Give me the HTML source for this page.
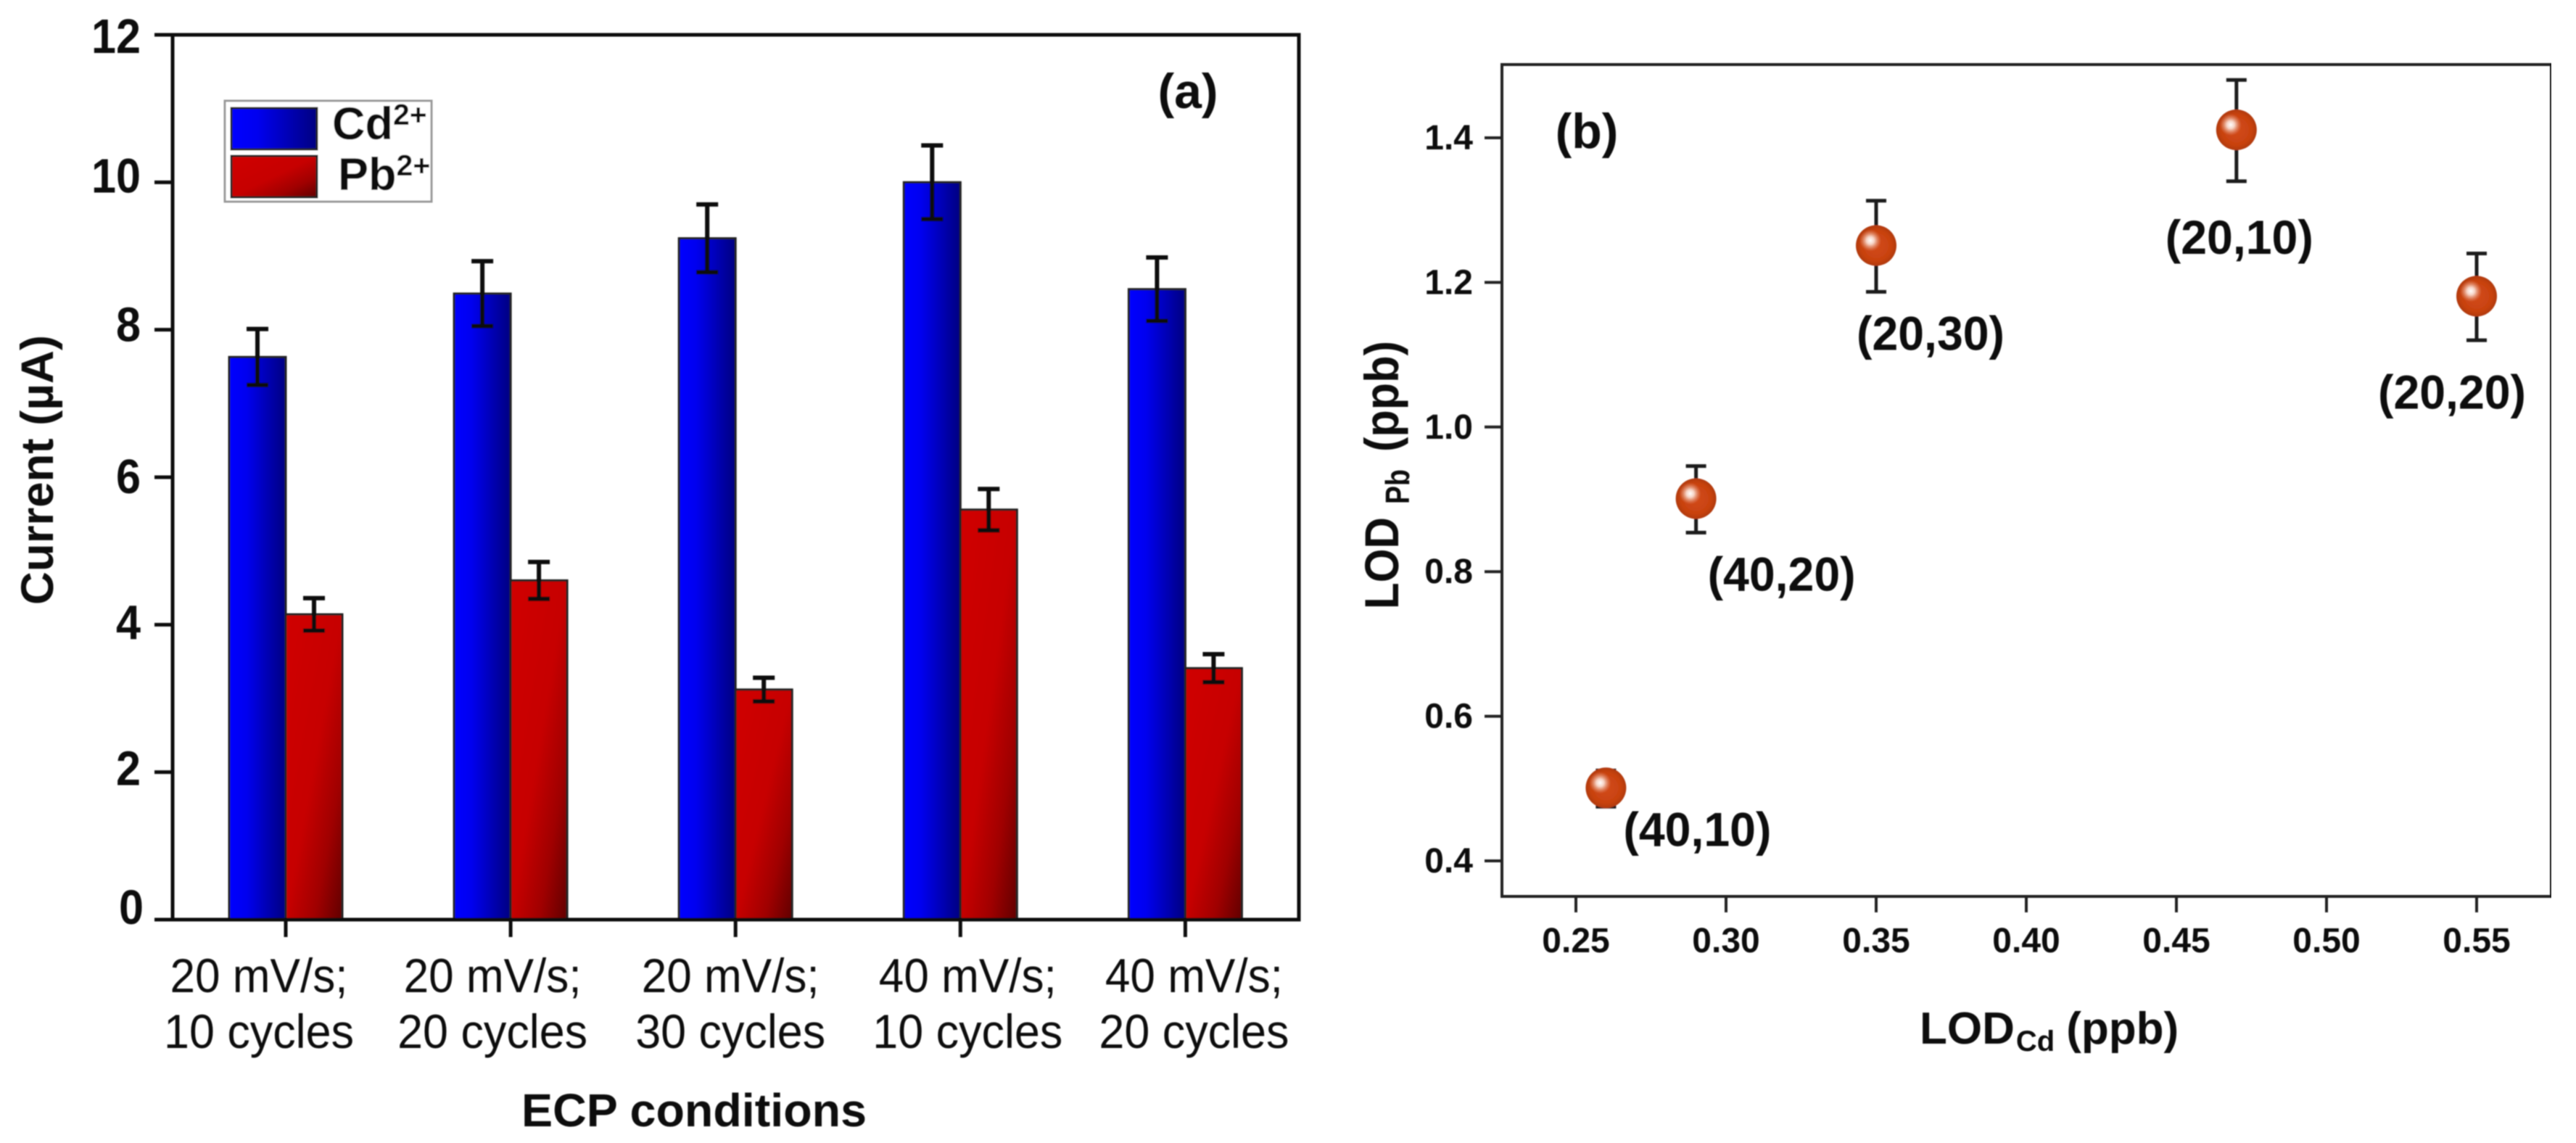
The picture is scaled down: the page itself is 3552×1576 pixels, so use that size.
<!DOCTYPE html>
<html lang="en">
<head>
<meta charset="utf-8">
<title>ECP conditions chart</title>
<style>
html,body{margin:0;padding:0;background:#fff;}
svg{display:block;}
text{font-family:"Liberation Sans",sans-serif;fill:#0c0c0c;}
.b{font-weight:bold;}
</style>
</head>
<body>
<svg id="figure" xmlns="http://www.w3.org/2000/svg" width="3552" height="1576" viewBox="0 0 3552 1576">
  <defs>
    <linearGradient id="blueGrad" x1="0" y1="0" x2="1" y2="0">
      <stop offset="0" stop-color="#0000ff"/>
      <stop offset="0.3" stop-color="#0000f0"/>
      <stop offset="1" stop-color="#000080"/>
    </linearGradient>
    <linearGradient id="redGrad" x1="0" y1="0" x2="1" y2="1">
      <stop offset="0" stop-color="#d00000"/>
      <stop offset="0.5" stop-color="#c60000"/>
      <stop offset="0.75" stop-color="#a00000"/>
      <stop offset="1" stop-color="#600000"/>
    </linearGradient>
    <radialGradient id="ballGrad" cx="0.5" cy="0.5" r="0.5">
      <stop offset="0" stop-color="#d24a1c"/>
      <stop offset="0.75" stop-color="#c8420f"/>
      <stop offset="1" stop-color="#b03a12"/>
    </radialGradient>
    <radialGradient id="shineGrad" cx="0.5" cy="0.5" r="0.5">
      <stop offset="0" stop-color="#ffffff"/>
      <stop offset="0.35" stop-color="#fbe4da" stop-opacity="0.9"/>
      <stop offset="1" stop-color="#e8a080" stop-opacity="0"/>
    </radialGradient>
    <filter id="soft" x="0" y="0" width="100%" height="100%"><feGaussianBlur stdDeviation="0.9"/></filter>
  </defs>
  <rect width="3552" height="1576" fill="#fff"/>
  <g id="root" filter="url(#soft)">
    <g id="panelA">
      <rect x="238" y="48" width="1553" height="1220" fill="none" stroke="#111" stroke-width="5"/>
      <text class="b" x="1638" y="149" font-size="68" text-anchor="middle">(a)</text>
      <text class="b" font-size="63" text-anchor="middle" textLength="372" lengthAdjust="spacingAndGlyphs" transform="translate(73,648) rotate(-90)">Current (µA)</text>
      <text class="b" x="957" y="1553" font-size="64" text-anchor="middle" textLength="476" lengthAdjust="spacingAndGlyphs">ECP conditions</text>
    </g>
    <g id="panelB">
      <rect x="2071" y="89" width="1447" height="1147" fill="none" stroke="#222" stroke-width="4"/>
      <text class="b" x="2188" y="204" font-size="68" text-anchor="middle">(b)</text>
      <g class="b" transform="translate(1928,840) rotate(-90)">
        <text class="b" x="0" y="0" font-size="66" textLength="127" lengthAdjust="spacingAndGlyphs">LOD</text>
        <text class="b" x="145" y="15" font-size="46" textLength="48" lengthAdjust="spacingAndGlyphs">Pb</text>
        <text class="b" x="217" y="0" font-size="66" textLength="153" lengthAdjust="spacingAndGlyphs">(ppb)</text>
      </g>
      <text class="b" x="2647" y="1439" font-size="62">LOD<tspan font-size="40" dx="2" dy="10">Cd</tspan><tspan dx="16" dy="-10">(ppb)</tspan></text>
    </g>
    <g id="legend">
      <rect x="310" y="139" width="285" height="139" fill="#fff" stroke="#999" stroke-width="3"/>
      <rect x="319" y="149" width="118" height="57" fill="url(#blueGrad)" stroke="#222" stroke-width="3"/>
      <rect x="319" y="215" width="118" height="57" fill="url(#redGrad)" stroke="#222" stroke-width="3"/>
      <text class="b" x="458" y="192" font-size="63">Cd<tspan font-size="41" dy="-20">2+</tspan></text>
      <text class="b" x="466" y="262" font-size="63">Pb<tspan font-size="41" dy="-20">2+</tspan></text>
    </g>
  </g>
</svg>
<script>
// Panel (a) data
const categoriesLine1 = ['20 mV/s;', '20 mV/s;', '20 mV/s;', '40 mV/s;', '40 mV/s;'];
const categoriesLine2 = ['10 cycles', '20 cycles', '30 cycles', '10 cycles', '20 cycles'];
const cdCurrent = [7.63, 8.49, 9.24, 10.0, 8.55];
const cdError = [0.38, 0.44, 0.46, 0.5, 0.43];
const pbCurrent = [4.14, 4.6, 3.12, 5.56, 3.41];
const pbError = [0.22, 0.25, 0.16, 0.28, 0.19];
const currentTicks = [0, 2, 4, 6, 8, 10, 12];

// Panel (b) data
const lodCd = [0.26, 0.29, 0.35, 0.47, 0.55];
const lodPb = [0.5, 0.9, 1.25, 1.41, 1.18];
const lodPbError = [0.025, 0.046, 0.063, 0.07, 0.06];
const pointLabels = ['(40,10)', '(40,20)', '(20,30)', '(20,10)', '(20,20)'];
const lodCdTicks = ['0.25', '0.30', '0.35', '0.40', '0.45', '0.50', '0.55'];
const lodPbTicks = ['0.4', '0.6', '0.8', '1.0', '1.2', '1.4'];

// Axis functions
function yA(v) { return 1268 - v * (1220 / 12); }
function xA(i) { return 394 + i * 310.1; }
function xB(v) { return 2173 + (v - 0.25) * (1242 / 0.3); }
function yB(v) { return 1187 - (v - 0.4) * 997; }

// Layout tweaks (manually placed text in the original figure)
function categoryLabelShift(i) { return [-37, -25, -7, 10, 12][i]; }
function pointLabelShiftX(i) { return [126, 118, 75, 4, -34][i]; }
function pointLabelShiftY(i) { return [79, 126, 143, 170, 154][i]; }
function yTickBaselineShift(i) { return [6, 18, 20, 22, 16, 14, 25][i]; }

const NS = 'http://www.w3.org/2000/svg';
function make(parent, tag, attrs, txt) {
  const n = document.createElementNS(NS, tag);
  for (const k in attrs) n.setAttribute(k, attrs[k]);
  if (txt !== undefined) n.textContent = txt;
  parent.appendChild(n);
  return n;
}
function errorBar(parent, x, yTop, yBot, cap, w, color) {
  const g = make(parent, 'g', { stroke: color, 'stroke-width': w, fill: 'none' });
  
  
  make(g, 'line', { x1: x, x2: x, y1: yTop, y2: yBot });
  make(g, 'line', { x1: x - cap, x2: x + cap, y1: yTop, y2: yTop });
  make(g, 'line', { x1: x - cap, x2: x + cap, y1: yBot, y2: yBot });
  return g;
}

const panelA = document.getElementById('panelA');
const panelB = document.getElementById('panelB');
const barWidth = 78;

currentTicks.forEach(function (t, i) {
  const y = yA(t);
  const tick = make(panelA, 'line', { x1: 213, x2: 238, y1: y, y2: y, stroke: '#111', 'stroke-width': 5 });
  
  
  const s = String(t);
  const lab = make(panelA, 'text', { x: t === 0 ? 198 : 194, y: y + yTickBaselineShift(i), 'font-size': 67, 'text-anchor': 'end', class: 'b', textLength: s.length * 34, lengthAdjust: 'spacingAndGlyphs' }, s);
  
  
});

categoriesLine1.forEach(function (c, i) {
  const x = xA(i);
  const cd = make(panelA, 'rect', { x: x - barWidth, y: yA(cdCurrent[i]), width: barWidth, height: yA(0) - yA(cdCurrent[i]), fill: 'url(#blueGrad)', stroke: '#222', 'stroke-width': 3 });
  
  
  const pb = make(panelA, 'rect', { x: x, y: yA(pbCurrent[i]), width: barWidth, height: yA(0) - yA(pbCurrent[i]), fill: 'url(#redGrad)', stroke: '#222', 'stroke-width': 3 });
  
  
  errorBar(panelA, x - barWidth / 2, yA(cdCurrent[i] + cdError[i]), yA(cdCurrent[i] - cdError[i]), 15, 6, '#0a0a0a');
  errorBar(panelA, x + barWidth / 2, yA(pbCurrent[i] + pbError[i]), yA(pbCurrent[i] - pbError[i]), 15, 6, '#0a0a0a');
  const tick = make(panelA, 'line', { x1: x, x2: x, y1: 1268, y2: 1292, stroke: '#111', 'stroke-width': 5 });
  
  
  const lx = x + categoryLabelShift(i);
  const l1 = make(panelA, 'text', { x: lx, y: 1368, 'font-size': 66, 'text-anchor': 'middle', textLength: 245, lengthAdjust: 'spacingAndGlyphs' }, c);
  
  
  const l2 = make(panelA, 'text', { x: lx, y: 1445, 'font-size': 66, 'text-anchor': 'middle', textLength: 262, lengthAdjust: 'spacingAndGlyphs' }, categoriesLine2[i]);
  
  
});
// Baseline redrawn above the bars
const baseA = make(panelA, 'line', { x1: 213, x2: 1791, y1: 1268, y2: 1268, stroke: '#111', 'stroke-width': 5 });



lodPbTicks.forEach(function (t) {
  const y = yB(parseFloat(t));
  const tick = make(panelB, 'line', { x1: 2047, x2: 2071, y1: y, y2: y, stroke: '#222', 'stroke-width': 4 });
  
  
  const lab = make(panelB, 'text', { x: 2031, y: y + 16, 'font-size': 48, 'text-anchor': 'end', class: 'b' }, t);
  
  
});
lodCdTicks.forEach(function (t) {
  const x = xB(parseFloat(t));
  const tick = make(panelB, 'line', { x1: x, x2: x, y1: 1236, y2: 1258, stroke: '#222', 'stroke-width': 4 });
  
  
  const lab = make(panelB, 'text', { x: x, y: 1313, 'font-size': 48, 'text-anchor': 'middle', class: 'b' }, t);
  
  
});
lodCd.forEach(function (v, i) {
  const x = xB(v);
  const y = yB(lodPb[i]);
  errorBar(panelB, x, yB(lodPb[i] + lodPbError[i]), yB(lodPb[i] - lodPbError[i]), 14, 5, '#1a1a1a');
  const pt = make(panelB, 'circle', { cx: x, cy: y - 1, r: 28, fill: 'url(#ballGrad)' });
  
  
  const shine = make(panelB, 'circle', { cx: x - 8, cy: y - 8, r: 15, fill: 'url(#shineGrad)' });
  
  
  const lab = make(panelB, 'text', { x: x + pointLabelShiftX(i), y: y + pointLabelShiftY(i), 'font-size': 66, 'text-anchor': 'middle', class: 'b', textLength: 204, lengthAdjust: 'spacingAndGlyphs' }, pointLabels[i]);
  
  
});
</script>
</body>
</html>
